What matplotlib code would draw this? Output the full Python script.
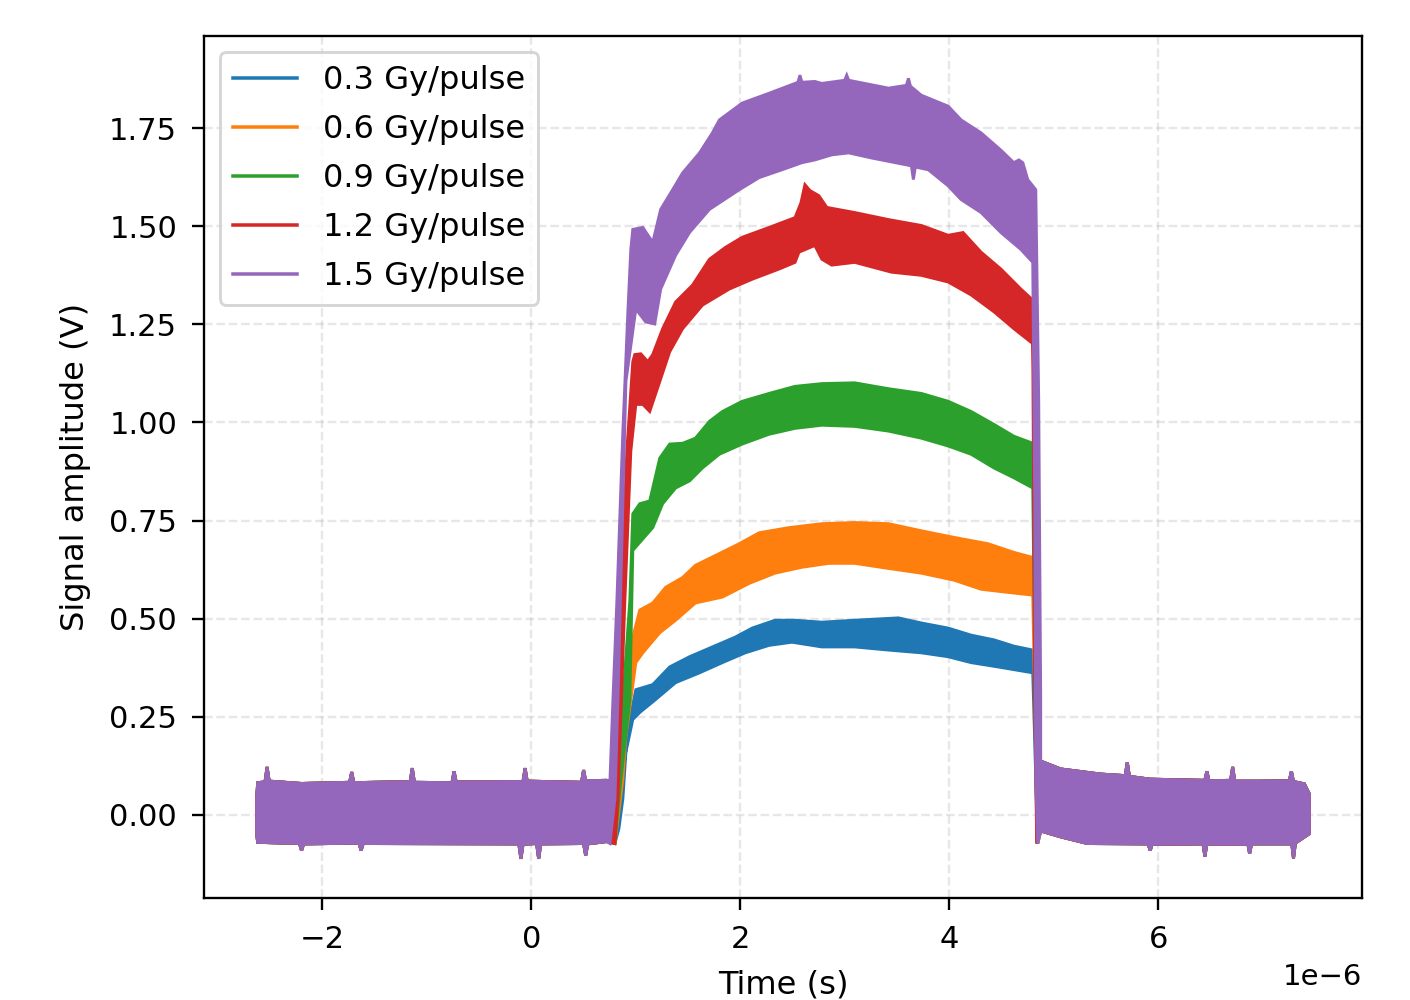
import numpy as np
import matplotlib.pyplot as plt
from matplotlib.lines import Line2D

# envelope of each noisy trace (time in us, amplitude in V)
labels = ["0.3 Gy/pulse", "0.6 Gy/pulse", "0.9 Gy/pulse", "1.2 Gy/pulse", "1.5 Gy/pulse"]
colors = ["tab:blue", "tab:orange", "tab:green", "tab:red", "tab:purple"]

# baseline before the pulse (shared by all traces)
pre_up_t = [-2.63, -2.62, -2.55, -2.53, -2.51, -2.2, -1.74, -1.72, -1.70, -1.16, -1.14, -1.12,
            -0.76, -0.74, -0.72, -0.08, -0.06, -0.04, 0.48, 0.50, 0.52, 0.72]
pre_up_v = [0.04, 0.082, 0.084, 0.122, 0.086, 0.080, 0.083, 0.109, 0.082, 0.085, 0.119, 0.083,
            0.082, 0.111, 0.084, 0.085, 0.119, 0.086, 0.083, 0.114, 0.087, 0.088]
pre_lo_t = [-2.63, -2.62, -2.22, -2.20, -2.18, -1.65, -1.63, -1.61, -0.12, -0.10, -0.08,
            0.05, 0.07, 0.09, 0.50, 0.52, 0.54, 0.72]
pre_lo_v = [-0.048, -0.070, -0.073, -0.091, -0.074, -0.072, -0.091, -0.073, -0.074, -0.112, -0.075,
            -0.073, -0.112, -0.074, -0.073, -0.104, -0.074, -0.068]

# baseline after the pulse
post_up_t = [4.876, 5.067, 5.448, 5.685, 5.705, 5.725, 5.924, 6.447, 6.467, 6.487, 6.694, 6.714,
             6.734, 6.97, 7.256, 7.276, 7.296, 7.40, 7.448]
post_up_v = [0.137, 0.117, 0.104, 0.100, 0.134, 0.098, 0.091, 0.088, 0.111, 0.087, 0.088, 0.122,
             0.086, 0.086, 0.087, 0.111, 0.085, 0.079, 0.053]
post_lo_t = [4.876, 5.067, 5.324, 5.905, 5.924, 5.943, 6.43, 6.448, 6.466, 6.86, 6.876, 6.894,
             7.28, 7.296, 7.314, 7.448]
post_lo_v = [-0.041, -0.056, -0.073, -0.074, -0.091, -0.075, -0.074, -0.106, -0.075, -0.075, -0.099,
             -0.074, -0.074, -0.111, -0.072, -0.048]

# pulse part, upper and lower edge of every trace
blue_up_t = [0.800, 0.876, 0.943, 1.000, 1.162, 1.324, 1.514, 1.733, 1.952, 2.114, 2.333, 2.524,
             2.781, 3.095, 3.514, 3.733, 3.990, 4.210, 4.429, 4.619, 4.800, 4.829, 4.848]
blue_up_v = [0.084, 0.104, 0.243, 0.319, 0.332, 0.377, 0.403, 0.428, 0.453, 0.476, 0.496, 0.496,
             0.491, 0.496, 0.502, 0.489, 0.476, 0.458, 0.446, 0.430, 0.420, 0.243, 0.084]
blue_lo_t = [0.800, 0.838, 0.876, 0.905, 0.971, 1.038, 1.190, 1.381, 1.610, 1.829, 2.048, 2.276,
             2.495, 2.781, 3.095, 3.419, 3.733, 3.990, 4.210, 4.467, 4.800, 4.829, 4.848]
blue_lo_v = [-0.073, -0.035, 0.041, 0.160, 0.243, 0.261, 0.294, 0.337, 0.362, 0.388, 0.413, 0.432,
             0.440, 0.428, 0.428, 0.420, 0.413, 0.403, 0.388, 0.377, 0.362, 0.091, -0.073]

orange_up_t = [0.800, 0.876, 0.971, 1.038, 1.162, 1.286, 1.448, 1.571, 1.800, 1.990, 2.181, 2.467,
               2.781, 3.095, 3.419, 3.733, 4.048, 4.371, 4.619, 4.800, 4.829, 4.848]
orange_up_v = [0.084, 0.286, 0.453, 0.522, 0.540, 0.580, 0.605, 0.636, 0.666, 0.691, 0.719, 0.732,
               0.742, 0.745, 0.742, 0.724, 0.707, 0.691, 0.669, 0.656, 0.294, 0.084]
orange_lo_t = [0.800, 0.876, 0.905, 1.000, 1.067, 1.229, 1.381, 1.571, 1.829, 2.086, 2.333, 2.590,
               2.848, 3.095, 3.419, 3.733, 4.048, 4.305, 4.562, 4.800, 4.829, 4.848]
orange_lo_v = [-0.073, 0.091, 0.200, 0.388, 0.413, 0.464, 0.496, 0.540, 0.555, 0.590, 0.616, 0.631,
               0.641, 0.641, 0.628, 0.616, 0.598, 0.575, 0.567, 0.560, 0.142, -0.073]

green_up_t = [0.800, 0.876, 0.943, 0.971, 1.038, 1.133, 1.229, 1.324, 1.448, 1.571, 1.705, 1.829,
              2.019, 2.276, 2.524, 2.781, 3.095, 3.419, 3.733, 3.990, 4.210, 4.429, 4.619, 4.800,
              4.829, 4.838]
green_up_v = [0.084, 0.294, 0.547, 0.767, 0.793, 0.800, 0.909, 0.945, 0.947, 0.960, 1.003, 1.028,
              1.054, 1.074, 1.092, 1.099, 1.101, 1.086, 1.074, 1.054, 1.028, 0.995, 0.965, 0.947,
              0.547, 0.084]
green_lo_t = [0.800, 0.848, 0.943, 0.971, 1.162, 1.257, 1.381, 1.514, 1.638, 1.800, 2.019, 2.276,
              2.524, 2.781, 3.095, 3.419, 3.733, 3.990, 4.210, 4.429, 4.619, 4.800, 4.829, 4.838]
green_lo_v = [-0.073, 0.066, 0.294, 0.674, 0.732, 0.793, 0.833, 0.851, 0.884, 0.919, 0.945, 0.970,
              0.985, 0.993, 0.990, 0.978, 0.960, 0.940, 0.919, 0.884, 0.859, 0.833, 0.167, -0.073]

red_up_t = [0.800, 0.857, 0.914, 0.971, 0.990, 1.048, 1.114, 1.162, 1.257, 1.381, 1.543, 1.705,
            1.857, 2.019, 2.276, 2.524, 2.581, 2.619, 2.667, 2.752, 2.829, 3.095, 3.419, 3.733,
            3.990, 4.133, 4.305, 4.495, 4.686, 4.800, 4.819, 4.838]
red_up_v = [0.084, 0.547, 0.927, 1.155, 1.173, 1.175, 1.155, 1.173, 1.239, 1.307, 1.350, 1.416,
            1.446, 1.472, 1.497, 1.522, 1.560, 1.606, 1.591, 1.578, 1.548, 1.535, 1.517, 1.502,
            1.477, 1.484, 1.434, 1.391, 1.340, 1.312, 0.800, 0.084]
red_lo_t = [0.800, 0.829, 0.895, 0.952, 1.000, 1.067, 1.133, 1.229, 1.324, 1.448, 1.638, 1.895,
            2.114, 2.371, 2.524, 2.562, 2.714, 2.781, 2.876, 3.095, 3.448, 3.733, 3.990, 4.210,
            4.429, 4.619, 4.800, 4.819, 4.838]
red_lo_v = [-0.073, 0.041, 0.547, 0.927, 1.046, 1.046, 1.028, 1.104, 1.180, 1.239, 1.299, 1.340,
            1.365, 1.391, 1.408, 1.434, 1.451, 1.416, 1.401, 1.408, 1.383, 1.375, 1.358, 1.325,
            1.282, 1.239, 1.201, 0.294, -0.073]

purple_up_t = [0.752, 0.781, 0.819, 0.876, 0.924, 0.952, 0.971, 1.067, 1.162, 1.238, 1.352, 1.448,
               1.610, 1.733, 1.800, 2.019, 2.276, 2.524, 2.552, 2.571, 2.590, 2.714, 2.781, 3.000,
               3.019, 3.038, 3.419, 3.590, 3.610, 3.629, 3.733, 3.990, 4.114, 4.305, 4.495, 4.619,
               4.667, 4.705, 4.752, 4.829, 4.857, 4.876]
purple_up_v = [0.084, 0.294, 0.547, 0.978, 1.282, 1.441, 1.492, 1.497, 1.459, 1.543, 1.593, 1.636,
               1.687, 1.738, 1.771, 1.814, 1.839, 1.864, 1.867, 1.885, 1.867, 1.869, 1.864, 1.872,
               1.885, 1.872, 1.852, 1.859, 1.877, 1.857, 1.834, 1.806, 1.771, 1.738, 1.694, 1.662,
               1.669, 1.662, 1.619, 1.593, 1.054, 0.294]
purple_lo_t = [0.752, 0.800, 0.829, 0.905, 1.000, 1.095, 1.181, 1.238, 1.381, 1.514, 1.705, 1.990,
               2.181, 2.400, 2.590, 2.714, 2.876, 3.038, 3.257, 3.638, 3.657, 3.676, 3.800, 3.990,
               4.114, 4.305, 4.495, 4.686, 4.800, 4.819, 4.829, 4.848]
purple_lo_v = [-0.073, 0.041, 0.294, 1.104, 1.289, 1.256, 1.251, 1.340, 1.426, 1.484, 1.543, 1.593,
               1.624, 1.644, 1.662, 1.669, 1.682, 1.687, 1.674, 1.654, 1.619, 1.651, 1.644, 1.603,
               1.568, 1.535, 1.484, 1.441, 1.408, 0.800, 0.091, -0.073]

pulses = [
    (blue_up_t, blue_up_v, blue_lo_t, blue_lo_v),
    (orange_up_t, orange_up_v, orange_lo_t, orange_lo_v),
    (green_up_t, green_up_v, green_lo_t, green_lo_v),
    (red_up_t, red_up_v, red_lo_t, red_lo_v),
    (purple_up_t, purple_up_v, purple_lo_t, purple_lo_v),
]

fig = plt.figure(figsize=(1410 / 210, 1000 / 210), dpi=210)
ax = fig.add_subplot(111)
fig.subplots_adjust(left=204 / 1410, right=1362 / 1410, top=1 - 36 / 1000, bottom=1 - 898 / 1000)

handles = []
for (ut, uv, lt, lv), color, label in zip(pulses, colors, labels):
    top_t = np.r_[pre_up_t, ut, post_up_t]
    top_v = np.r_[pre_up_v, uv, post_up_v]
    bot_t = np.r_[pre_lo_t, lt, post_lo_t]
    bot_v = np.r_[pre_lo_v, lv, post_lo_v]
    t = np.r_[top_t, bot_t[::-1]] * 1e-6
    v = np.r_[top_v, bot_v[::-1]]
    ax.fill(t, v, facecolor=color, edgecolor=color, lw=1.0)
    handles.append(Line2D([], [], color=color, lw=1.2, label=label))

ax.grid(True, linestyle="--", alpha=0.3)
ax.set_axisbelow(True)
ax.tick_params(axis="both", length=4, pad=5.2, labelsize=10.5)
ax.set_xlabel("Time (s)", fontsize=11, labelpad=5.2)
ax.set_ylabel("Signal amplitude (V)", fontsize=11, labelpad=6.3)
ax.legend(handles=handles, loc="upper left", fontsize=11, labelspacing=0.56)

fig.savefig("out.png", dpi=210)
